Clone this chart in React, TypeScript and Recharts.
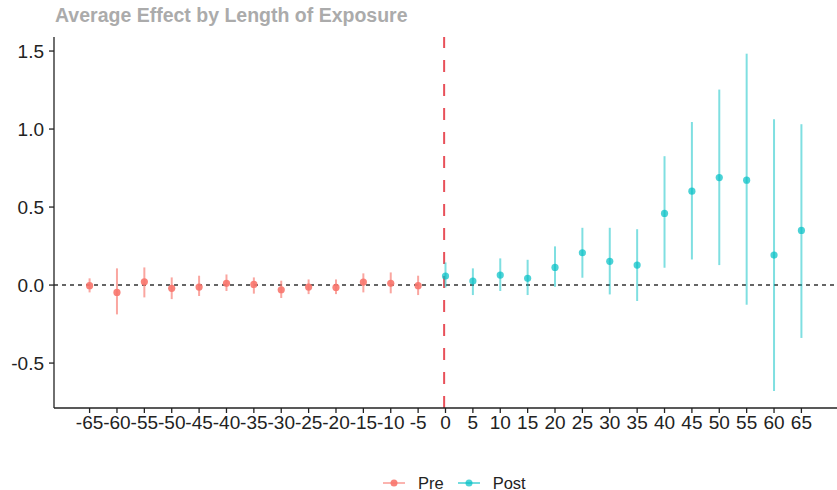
import React from 'react';
import {
  ComposedChart,
  Scatter,
  ErrorBar,
  XAxis,
  YAxis,
  ReferenceLine,
  Legend,
} from 'recharts';

// event time (periods relative to exposure)
const preTimes = [-65, -60, -55, -50, -45, -40, -35, -30, -25, -20, -15, -10, -5];
const preEst = [-0.004, -0.047, 0.021, -0.021, -0.013, 0.011, 0.004, -0.03, -0.013, -0.015, 0.019, 0.011, -0.004];
const preLow = [-0.047, -0.188, -0.079, -0.09, -0.07, -0.038, -0.055, -0.083, -0.058, -0.058, -0.047, -0.053, -0.064];
const preHigh = [0.043, 0.107, 0.113, 0.049, 0.06, 0.068, 0.049, 0.028, 0.036, 0.036, 0.075, 0.081, 0.06];

const postTimes = [0, 5, 10, 15, 20, 25, 30, 35, 40, 45, 50, 55, 60, 65];
const postEst = [0.058, 0.026, 0.064, 0.043, 0.113, 0.207, 0.152, 0.128, 0.459, 0.602, 0.689, 0.672, 0.192, 0.35];
const postLow = [-0.015, -0.064, -0.038, -0.064, -0.011, 0.047, -0.06, -0.102, 0.111, 0.164, 0.128, -0.126, -0.679, -0.339];
const postHigh = [0.145, 0.107, 0.171, 0.162, 0.248, 0.367, 0.367, 0.358, 0.826, 1.045, 1.253, 1.483, 1.063, 1.031];

const xTicks = [-65, -60, -55, -50, -45, -40, -35, -30, -25, -20, -15, -10, -5, 0, 5, 10, 15, 20, 25, 30, 35, 40, 45, 50, 55, 60, 65];
const yTicks = [-0.5, 0, 0.5, 1.0, 1.5];

const PRE_COLOR = '#F8766D';
const POST_COLOR = '#00BFC4';
const FONT = '"Liberation Sans", Arial, sans-serif';

const toRows = (xs: number[], est: number[], lo: number[], hi: number[]) =>
  xs.map((x, i) => ({ x, y: est[i], err: [est[i] - lo[i], hi[i] - est[i]] }));

const preData = toRows(preTimes, preEst, preLow, preHigh);
const postData = toRows(postTimes, postEst, postLow, postHigh);

const dot = (color: string, alpha: number) => (props: any) => (
  <circle cx={props.cx} cy={props.cy} r={3.6} fill={color} fillOpacity={alpha} />
);

const LegendKeys = () => (
  <div
    style={{
      display: 'flex',
      alignItems: 'center',
      height: 30,
      paddingLeft: 383,
      paddingTop: 16,
      boxSizing: 'border-box',
      fontFamily: FONT,
      fontSize: 16.5,
      color: '#222',
    }}
  >
    {[
      { name: 'Pre', color: PRE_COLOR, a: 0.9 },
      { name: 'Post', color: POST_COLOR, a: 0.7 },
    ].map((item) => (
      <div key={item.name} style={{ display: 'flex', alignItems: 'center', marginRight: 14 }}>
        <svg width={22} height={10} style={{ marginRight: 13 }}>
          <line x1={0} y1={5} x2={22} y2={5} stroke={item.color} strokeOpacity={0.55} strokeWidth={2} />
          <circle cx={11} cy={5} r={3.5} fill={item.color} fillOpacity={item.a} />
        </svg>
        <span>{item.name}</span>
      </div>
    ))}
  </div>
);

export default function App() {
  return (
    <div style={{ position: 'absolute', left: 0, top: 0, width: 837, height: 490, background: '#fff' }}>
      <div
        style={{
          position: 'absolute',
          left: 55,
          top: 4,
          fontFamily: FONT,
          fontWeight: 'bold',
          fontSize: 19.5,
          color: '#ABABAB',
          zIndex: 2,
        }}
      >
        Average Effect by Length of Exposure
      </div>
      <ComposedChart width={837} height={490} margin={{ top: 37, right: 0, bottom: 0, left: 0 }}>
        <XAxis
          type="number"
          dataKey="x"
          domain={[-71.5, 71.5]}
          ticks={xTicks}
          interval={0}
          allowDataOverflow
          height={52}
          tickSize={5}
          tickMargin={3}
          stroke="#222"
          strokeWidth={1.3}
          tick={{ fill: '#222', fontSize: 19, fontFamily: FONT }}
        />
        <YAxis
          type="number"
          dataKey="y"
          domain={[-0.788, 1.59]}
          ticks={yTicks}
          allowDataOverflow
          width={54}
          tickSize={5}
          tickMargin={5}
          stroke="#222"
          strokeWidth={1.3}
          tickFormatter={(v: number) => v.toFixed(1)}
          tick={{ fill: '#222', fontSize: 19, fontFamily: FONT }}
        />
        <ReferenceLine y={0} stroke="#333" strokeDasharray="4 4" strokeWidth={1.4} />
        <ReferenceLine x={-0.25} stroke="#E8505A" strokeDasharray="12 12" strokeWidth={2} />
        <Scatter name="Pre" data={preData} dataKey="y" shape={dot(PRE_COLOR, 0.9)} isAnimationActive={false}>
          <ErrorBar dataKey="err" direction="y" width={0} stroke={PRE_COLOR} strokeOpacity={0.65} strokeWidth={2} />
        </Scatter>
        <Scatter name="Post" data={postData} dataKey="y" shape={dot(POST_COLOR, 0.7)} isAnimationActive={false}>
          <ErrorBar dataKey="err" direction="y" width={0} stroke={POST_COLOR} strokeOpacity={0.5} strokeWidth={2} />
        </Scatter>
        <Legend verticalAlign="bottom" height={30} content={() => <LegendKeys />} />
      </ComposedChart>
    </div>
  );
}
